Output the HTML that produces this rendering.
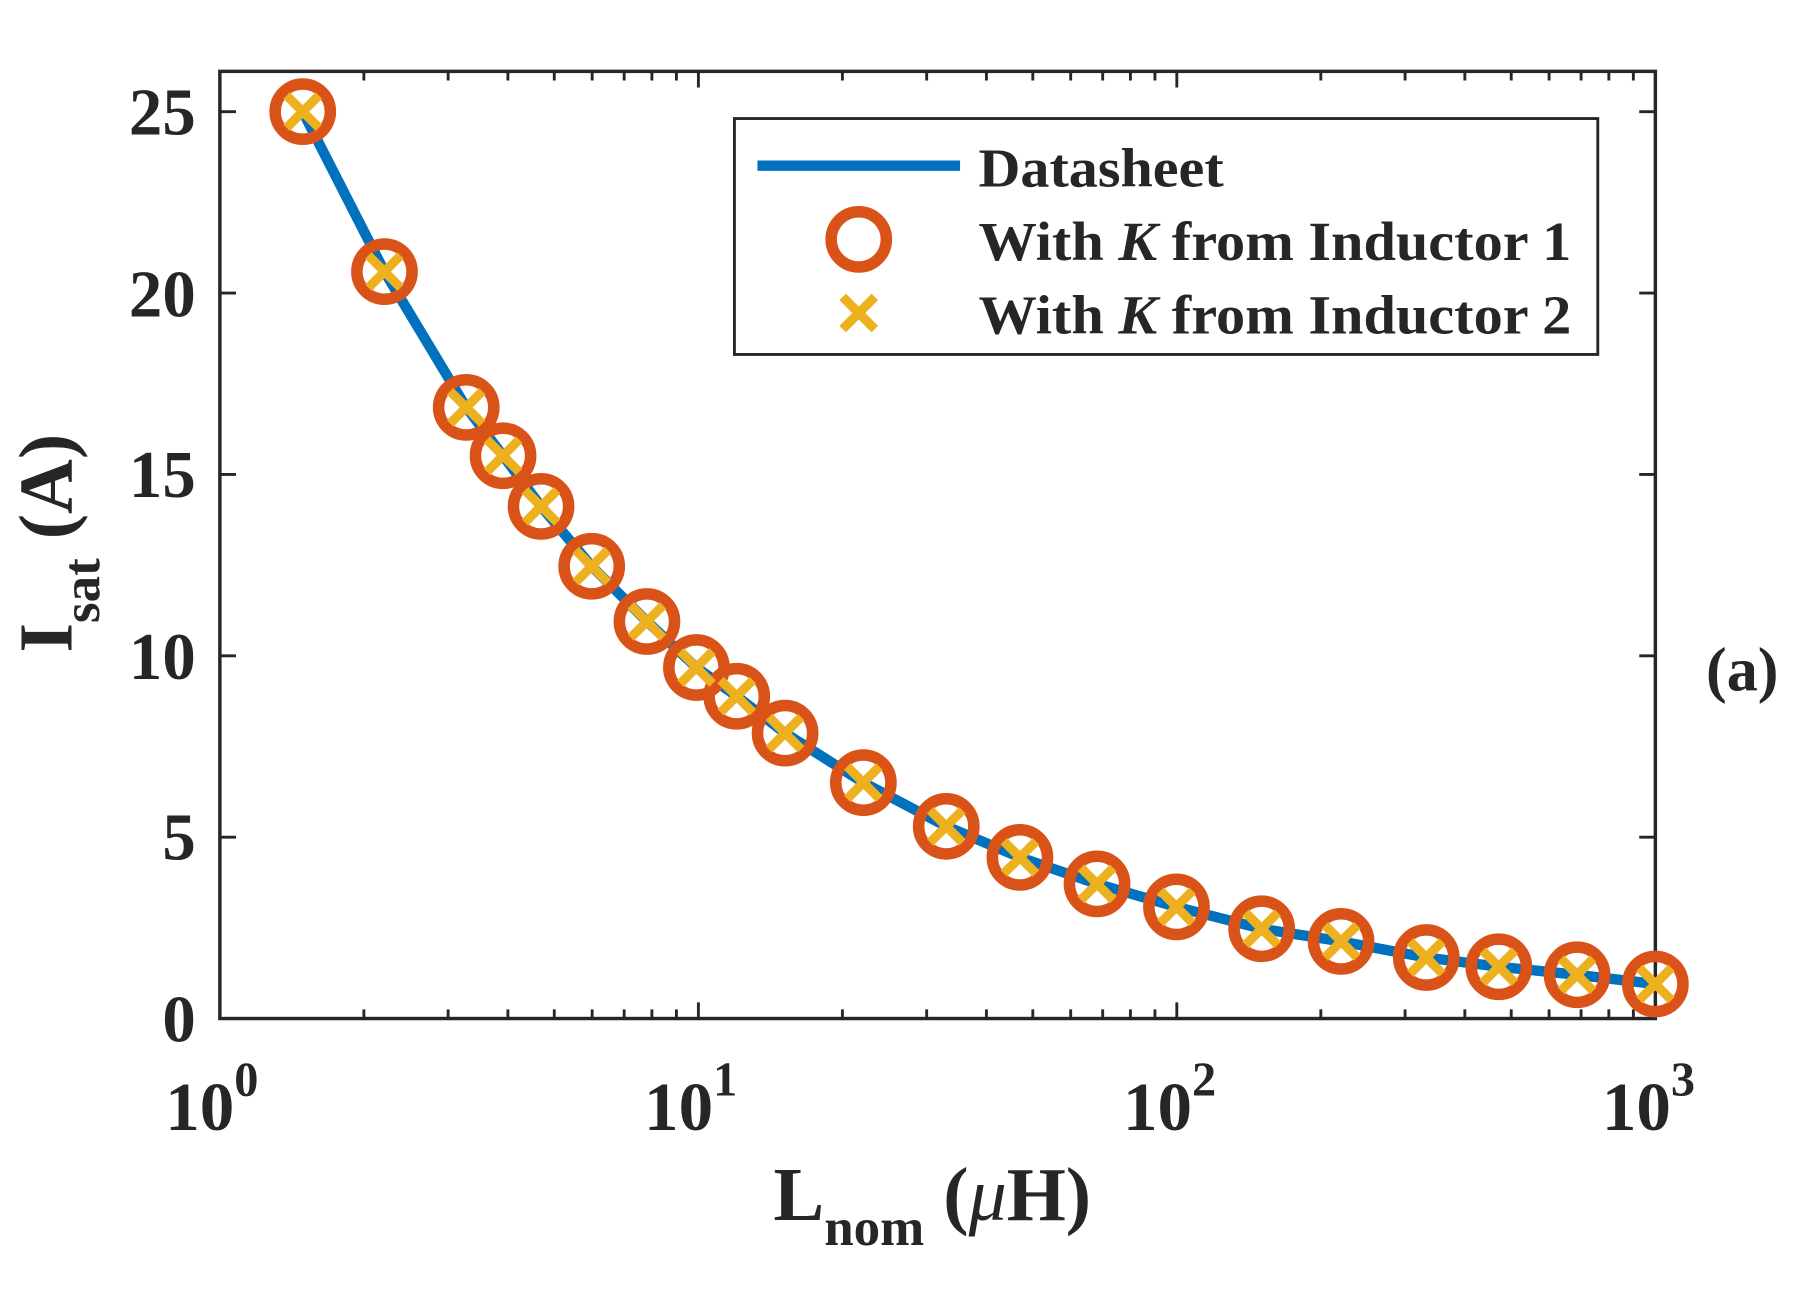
<!DOCTYPE html>
<html><head><style>
html,body{margin:0;padding:0;background:#fff;}
svg{display:block;}
text{font-family:"Liberation Serif",serif;font-weight:bold;fill:#262626;}
</style></head><body>
<svg width="1805" height="1312" viewBox="0 0 1568 1140" preserveAspectRatio="none" xmlns="http://www.w3.org/2000/svg">
<rect x="191" y="62" width="1247" height="823" fill="none" stroke="#262626" stroke-width="3"/>
<g stroke="#262626" stroke-width="2.5">
<path d="M191 885h14M191 727.4h14M191 569.8h14M191 412.2h14M191 254.6h14M191 97h14"/>
<path d="M1438 885h-14M1438 727.4h-14M1438 569.8h-14M1438 412.2h-14M1438 254.6h-14M1438 97h-14"/>
<path d="M606.7 885v-14M1022.3 885v-14M606.7 62v14M1022.3 62v14"/>
<path d="M316.1 885v-8M389.3 885v-8M441.2 885v-8M481.5 885v-8M514.4 885v-8M542.2 885v-8M566.3 885v-8M587.6 885v-8
M731.8 885v-8M805 885v-8M856.9 885v-8M897.2 885v-8M930.1 885v-8M957.9 885v-8M982 885v-8M1003.3 885v-8
M1147.4 885v-8M1220.6 885v-8M1272.5 885v-8M1312.8 885v-8M1345.7 885v-8M1373.5 885v-8M1397.6 885v-8M1418.9 885v-8
M316.1 62v8M389.3 62v8M441.2 62v8M481.5 62v8M514.4 62v8M542.2 62v8M566.3 62v8M587.6 62v8
M731.8 62v8M805 62v8M856.9 62v8M897.2 62v8M930.1 62v8M957.9 62v8M982 62v8M1003.3 62v8
M1147.4 62v8M1220.6 62v8M1272.5 62v8M1312.8 62v8M1345.7 62v8M1373.5 62v8M1397.6 62v8M1418.9 62v8"/>
</g>
<g font-size="58" text-anchor="end">
<text x="170" y="905">0</text>
<text x="170" y="747">5</text>
<text x="170" y="590">10</text>
<text x="170" y="432">15</text>
<text x="170" y="275">20</text>
<text x="170" y="117">25</text>
</g>
<g font-size="60" text-anchor="middle">
<text x="184" y="982">10<tspan font-size="42" dy="-30">0</tspan></text>
<text x="600" y="982">10<tspan font-size="42" dy="-30">1</tspan></text>
<text x="1016" y="982">10<tspan font-size="42" dy="-30">2</tspan></text>
<text x="1432" y="982">10<tspan font-size="42" dy="-30">3</tspan></text>
</g>
<text x="672" y="1060" font-size="66">L<tspan font-size="46" dy="22">nom</tspan><tspan dy="-22"> (</tspan><tspan font-style="italic" font-weight="normal">μ</tspan>H)</text>
<text transform="translate(62,472) rotate(-90)" font-size="66" text-anchor="middle">I<tspan font-size="46" dy="24">sat</tspan><tspan dy="-24"> (A)</tspan></text>
<text x="1482" y="600" font-size="54" font-weight="normal">(<tspan font-weight="bold">a</tspan>)</text>
<polyline fill="none" stroke="#0072BD" stroke-width="9" stroke-linejoin="round"
points="263,97 334,236 405,354 437,396 470,440 514,492 562,540 605,580 640,605 682,637 750,680 822,718 886,745 953,768 1022,788 1096,807 1165,818 1239,832 1302,840 1370,847 1438,855"/>
<g fill="none" stroke="#D95319" stroke-width="10">
<circle cx="263" cy="97" r="24"/><circle cx="334" cy="236" r="24"/><circle cx="405" cy="354" r="24"/><circle cx="437" cy="396" r="24"/><circle cx="470" cy="440" r="24"/><circle cx="514" cy="492" r="24"/><circle cx="562" cy="540" r="24"/><circle cx="605" cy="580" r="24"/><circle cx="640" cy="605" r="24"/><circle cx="682" cy="637" r="24"/><circle cx="750" cy="680" r="24"/><circle cx="822" cy="718" r="24"/><circle cx="886" cy="745" r="24"/><circle cx="953" cy="768" r="24"/><circle cx="1022" cy="788" r="24"/><circle cx="1096" cy="807" r="24"/><circle cx="1165" cy="818" r="24"/><circle cx="1239" cy="832" r="24"/><circle cx="1302" cy="840" r="24"/><circle cx="1370" cy="847" r="24"/><circle cx="1438" cy="855" r="24"/>
</g>
<g stroke="#EDB120" stroke-width="8">
<path d="M249 83l28 28M277 83l-28 28 M320 222l28 28M348 222l-28 28 M391 340l28 28M419 340l-28 28 M423 382l28 28M451 382l-28 28 M456 426l28 28M484 426l-28 28 M500 478l28 28M528 478l-28 28 M548 526l28 28M576 526l-28 28 M591 566l28 28M619 566l-28 28 M626 591l28 28M654 591l-28 28 M668 623l28 28M696 623l-28 28 M736 666l28 28M764 666l-28 28 M808 704l28 28M836 704l-28 28 M872 731l28 28M900 731l-28 28 M939 754l28 28M967 754l-28 28 M1008 774l28 28M1036 774l-28 28 M1082 793l28 28M1110 793l-28 28 M1151 804l28 28M1179 804l-28 28 M1225 818l28 28M1253 818l-28 28 M1288 826l28 28M1316 826l-28 28 M1356 833l28 28M1384 833l-28 28 M1424 841l28 28M1452 841l-28 28"/>
</g>
<rect x="638" y="103" width="750" height="205" fill="#fff" stroke="#262626" stroke-width="2.5"/>
<line x1="658" y1="144" x2="834" y2="144" stroke="#0072BD" stroke-width="9"/>
<circle cx="746" cy="208" r="24" fill="none" stroke="#D95319" stroke-width="10"/>
<path d="M732 258l28 28M760 258l-28 28" stroke="#EDB120" stroke-width="8"/>
<g font-size="48">
<text x="850" y="162" textLength="213" lengthAdjust="spacingAndGlyphs">Datasheet</text>
<text x="850" y="226" textLength="515" lengthAdjust="spacingAndGlyphs">With <tspan font-style="italic">K</tspan> from Inductor 1</text>
<text x="850" y="290" textLength="515" lengthAdjust="spacingAndGlyphs">With <tspan font-style="italic">K</tspan> from Inductor 2</text>
</g>
</svg>
</body></html>
